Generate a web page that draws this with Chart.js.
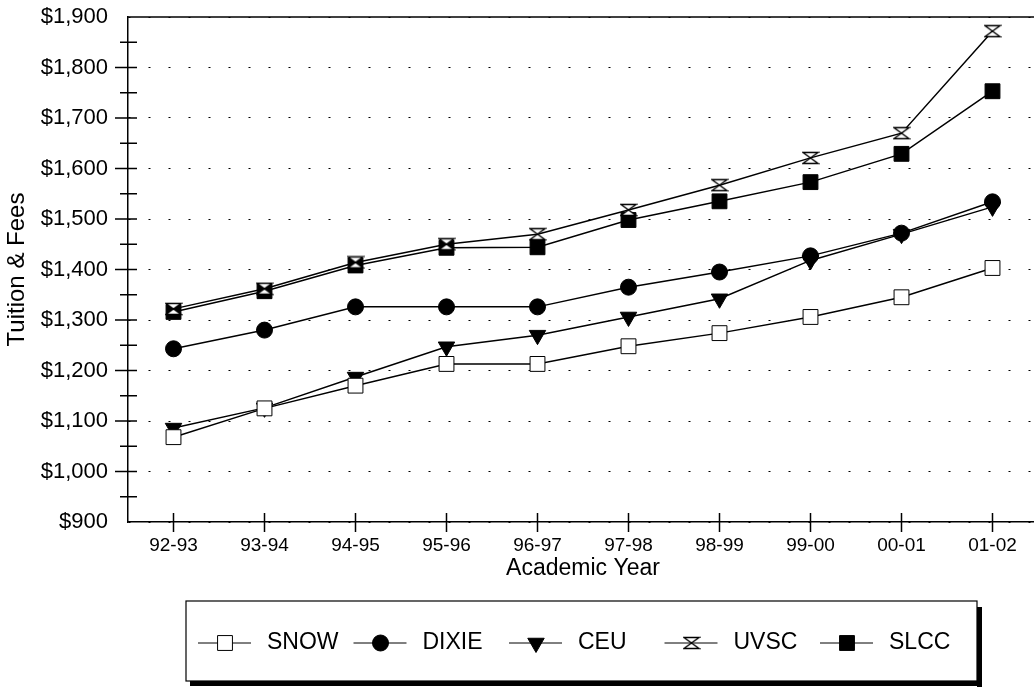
<!DOCTYPE html>
<html><head><meta charset="utf-8">
<script src="https://cdn.jsdelivr.net/npm/chart.js"></script>
<style>html,body{margin:0;padding:0;background:#fff;overflow:hidden}canvas{display:block}</style>
</head><body>
<canvas id="c" width="1040" height="688"></canvas>
<script>
// dados
const anos=['92-93','93-94','94-95','95-96','96-97','97-98','98-99','99-00','00-01','01-02'];
const snow=[1068,1125,1170,1213,1213,1248,1274,1306,1345,1403];
const dixie=[1243,1280,1326,1326,1326,1365,1395,1427,1472,1534];
const ceu=[1086,1126,1187,1247,1270,1306,1342,1418,1470,1524];
const uvsc=[1322,1362,1414,1450,1470,1518,1567,1621,1670,1872];
const slcc=[1316,1357,1408,1443,1444,1498,1535,1573,1629,1753];
const nomes=['SNOW','DIXIE','CEU','UVSC','SLCC'];
const yMin=900,yMax=1900,yPasso=100;

const FONT='"Liberation Sans", Arial, Helvetica, sans-serif';

function ampulheta(){const c=document.createElement('canvas');c.width=18;c.height=14;const x=c.getContext('2d');
  x.fillStyle='#fff';x.strokeStyle='#000';x.lineWidth=1.3;x.beginPath();
  x.moveTo(1.5,1.5);x.lineTo(16.5,1.5);x.lineTo(1.5,12.5);x.lineTo(16.5,12.5);x.closePath();x.fill();x.stroke();return c;}

const estilos=[
  {pointStyle:'rect',pointRadius:10.5,pointBackgroundColor:'#fff'},
  {pointStyle:'circle',pointRadius:8,pointBackgroundColor:'#000'},
  {pointStyle:'triangle',pointRadius:9.5,pointRotation:180,pointBackgroundColor:'#000'},
  {pointStyle:ampulheta(),pointRadius:9,pointBackgroundColor:'#fff'},
  {pointStyle:'rect',pointRadius:10.5,pointBackgroundColor:'#000'}];

const series=[snow,dixie,ceu,uvsc,slcc];

function marcador(ctx,d,x,y){
  ctx.fillStyle=d.pointBackgroundColor;ctx.strokeStyle='#000';ctx.lineWidth=1;
  Chart.helpers.drawPoint(ctx,{pointStyle:d.pointStyle,radius:d.pointRadius,rotation:d.pointRotation||0,borderWidth:1},x,y);
}

const semPad=s=>{s.paddingTop=0;s.paddingBottom=0;s.paddingLeft=0;s.paddingRight=0;};

const moldura={id:'moldura',afterDraw(ch){
  const {ctx,chartArea:a,scales:{x,y}}=ch;
  ctx.save();ctx.strokeStyle='#000';ctx.lineWidth=1.5;
  ctx.beginPath();ctx.moveTo(a.left,a.top);ctx.lineTo(a.right+5,a.top);ctx.stroke();
  const t=y.ticks.map(k=>k.value);
  ctx.beginPath();
  t.forEach((v,i)=>{
    if(i>0&&i<t.length-1){const p=y.getPixelForValue(v);ctx.moveTo(a.left-13,p);ctx.lineTo(a.left+9,p);}
    if(i<t.length-1){const p=y.getPixelForValue((v+t[i+1])/2);ctx.moveTo(a.left-8,p);ctx.lineTo(a.left+9,p);}
  });
  x.ticks.forEach((k,i)=>{const p=x.getPixelForTick(i);ctx.moveTo(p,a.bottom-9);ctx.lineTo(p,a.bottom+10);});
  ctx.stroke();
  // legenda em caixa com sombra
  const L=186,T=601,R=977,B=681,cy=643;
  ctx.fillStyle='#000';ctx.fillRect(L+4,B,R-L+1,5);ctx.fillRect(R,T+6,5,B-T);
  ctx.lineWidth=1.2;ctx.strokeRect(L,T,R-L,B-T);
  ch.data.datasets.forEach((d,i)=>{const x0=L+12+i*155.5;
    ctx.strokeStyle='#000';ctx.lineWidth=1;ctx.beginPath();ctx.moveTo(x0,cy);ctx.lineTo(x0+53,cy);ctx.stroke();
    marcador(ctx,d,x0+27,cy);
    ctx.fillStyle='#000';ctx.font='23px '+FONT;ctx.textBaseline='middle';ctx.textAlign='left';ctx.fillText(d.label,x0+69,cy);
  });
  ctx.restore();
}};

new Chart(document.getElementById('c'),{type:'line',
  data:{labels:anos,datasets:series.map((s,i)=>Object.assign({label:nomes[i],data:s,borderColor:'#000',borderWidth:1.5,
    pointBorderColor:'#000',pointBorderWidth:1,tension:0,fill:false},estilos[i]))},
  options:{responsive:false,animation:false,events:[],
    layout:{autoPadding:false,padding:{top:17,left:0,right:2,bottom:106}},
    plugins:{legend:{display:false},tooltip:{enabled:false}},
    scales:{
      x:{offset:true,grid:{display:false,drawTicks:false},border:{display:true,color:'#000',width:1.5},
        ticks:{color:'#000',font:{family:FONT,size:19},padding:12,maxRotation:0,autoSkip:false},
        title:{display:true,text:'Academic Year',color:'#000',font:{family:FONT,size:23},padding:0},
        afterFit:s=>{s.height=60;semPad(s);}},
      y:{min:yMin,max:yMax,
        ticks:{stepSize:yPasso,color:'#000',font:{family:FONT,size:22},padding:20,callback:v=>'$'+v.toLocaleString('en-US')},
        grid:{color:'#000',lineWidth:1,drawTicks:false},border:{display:true,color:'#000',width:1.5,dash:[2,18]},
        title:{display:true,text:'Tuition & Fees',color:'#000',font:{family:FONT,size:24},padding:{top:3,bottom:0}},
        afterFit:s=>{s.width=128;semPad(s);}}}},
  plugins:[moldura]});
</script>
</body></html>
